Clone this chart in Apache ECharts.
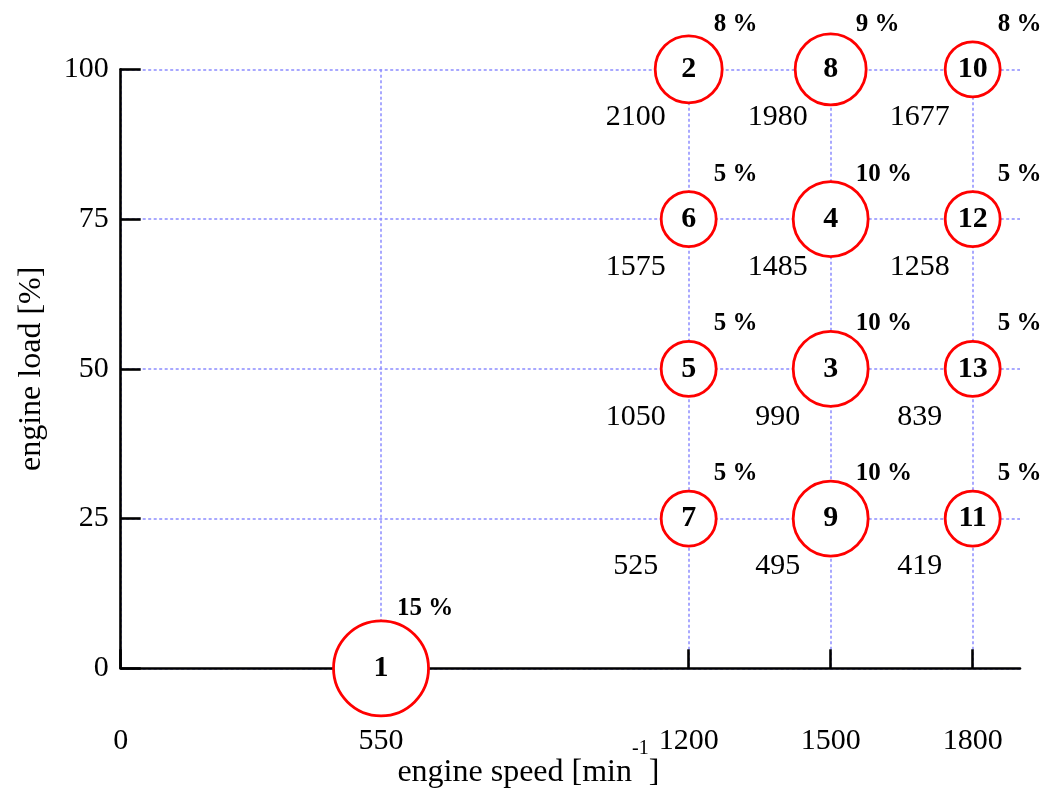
<!DOCTYPE html>
<html><head><meta charset="utf-8">
<script src="https://cdn.jsdelivr.net/npm/echarts@6/dist/echarts.min.js"></script>
<style>html,body{margin:0;padding:0;background:#fff}#c{width:1045px;height:789px}</style>
</head><body><div id="c"></div>
<script>
// ---- data ----
const pointIds   = [1, 2, 3, 4, 5, 6, 7, 8, 9, 10, 11, 12, 13];
const speed      = [550, 1200, 1500, 1500, 1200, 1200, 1200, 1500, 1500, 1800, 1800, 1800, 1800];
const load       = [0, 100, 50, 75, 50, 75, 25, 100, 25, 100, 25, 75, 50];
const sharePct   = [15, 8, 10, 10, 5, 5, 5, 9, 10, 8, 5, 5, 5];
const torqueVal  = [null, 2100, 990, 1485, 1050, 1575, 525, 1980, 495, 1677, 419, 1258, 839];
const circleWeight = [15, 8, 10, 10, 5, 5, 5, 9, 10, 5, 5, 5, 5]; // drawn circle size weight
const xTickValues = [0, 550, 1200, 1500, 1800];
const yTickValues = [0, 25, 50, 75, 100];

const FONT = '"Liberation Serif","Times New Roman",Times,serif';
const chart = echarts.init(document.getElementById('c'), null, {renderer: 'canvas'});

const circleData = pointIds.map((id, i) => ({value: [speed[i], load[i]], name: String(id)}));
const shareData = pointIds.map((id, i) => ({
  value: [speed[i], load[i]],
  label: {offset: load[i] === 0 ? [16, -60] : [25, -45]},
  txt: sharePct[i] + ' %'
}));
const torqueData = [];
pointIds.forEach((id, i) => { if (torqueVal[i] !== null) torqueData.push({value: [speed[i], load[i]], txt: String(torqueVal[i])}); });

const axisLineStyle = {color: '#000', width: 2.6};
const gridLineStyle = {color: '#8c8cff', width: 1.5, type: [3, 2.5]};
const plainLabel = {color: '#000', textBorderWidth: 0, textBorderColor: 'transparent', textShadowBlur: 0, opacity: 1};

chart.setOption({
  animation: false,
  backgroundColor: '#fff',
  grid: {left: 120.7, right: 25, top: 69.3, bottom: 120.7, containLabel: false, outerBoundsMode: 'none'},
  xAxis: {
    type: 'value', min: 0, max: 1900,
    axisLine: {show: true, onZero: false, lineStyle: axisLineStyle},
    axisTick: {show: true, inside: true, length: 19, customValues: xTickValues, lineStyle: axisLineStyle},
    axisLabel: {customValues: xTickValues, margin: 58, fontSize: 30, fontFamily: FONT, color: '#000',
      formatter: v => String(v)},
    splitLine: {show: true, lineStyle: gridLineStyle},
    name: '{a|engine speed [min}{b|-1}{a|]}',
    nameLocation: 'middle', nameGap: 70, nameMoveOverlap: false,
    nameTextStyle: {
      padding: [0, 84, 0, 0],
      rich: {
        a: {fontSize: 32, fontFamily: FONT, color: '#000', padding: [18, 0, 0, 0]},
        b: {fontSize: 20, fontFamily: FONT, color: '#000', verticalAlign: 'top', padding: [0, 0, 0, 0]}
      }
    }
  },
  yAxis: {
    type: 'value', min: 0, max: 100, interval: 25,
    axisLine: {show: true, onZero: false, lineStyle: axisLineStyle},
    axisTick: {show: true, inside: true, length: 20, lineStyle: axisLineStyle},
    axisLabel: {margin: 12, fontSize: 30, fontFamily: FONT, color: '#000', formatter: v => String(v)},
    splitLine: {show: true, lineStyle: gridLineStyle},
    name: 'engine load [%]', nameLocation: 'middle', nameRotate: 90, nameGap: 73, nameMoveOverlap: false,
    nameTextStyle: {fontSize: 32, fontFamily: FONT, color: '#000'}
  },
  series: [
    {
      type: 'scatter', name: 'points', clip: false, silent: true, z: 3,
      data: circleData,
      symbol: 'circle',
      symbolSize: (v, p) => 35 + 4 * circleWeight[p.dataIndex],
      itemStyle: {color: '#fff', borderColor: '#ff0000', borderWidth: 2.8, opacity: 1},
      label: Object.assign({show: true, position: 'inside', formatter: p => p.name,
        fontSize: 30, fontWeight: 'bold', fontFamily: FONT}, plainLabel)
    },
    {
      type: 'scatter', name: 'share', clip: false, silent: true, z: 4,
      data: shareData, symbolSize: 1,
      itemStyle: {color: '#fff', opacity: 0},
      label: Object.assign({show: true, position: 'inside', align: 'left', verticalAlign: 'middle',
        formatter: p => p.data.txt, fontSize: 25, fontWeight: 'bold', fontFamily: FONT}, plainLabel)
    },
    {
      type: 'scatter', name: 'torque', clip: false, silent: true, z: 4,
      data: torqueData, symbolSize: 1,
      itemStyle: {color: '#fff', opacity: 0},
      label: Object.assign({show: true, position: 'inside', align: 'center', verticalAlign: 'middle', offset: [-53, 48],
        formatter: p => p.data.txt, fontSize: 30, fontFamily: FONT}, plainLabel)
    }
  ]
});
</script>
</body></html>
